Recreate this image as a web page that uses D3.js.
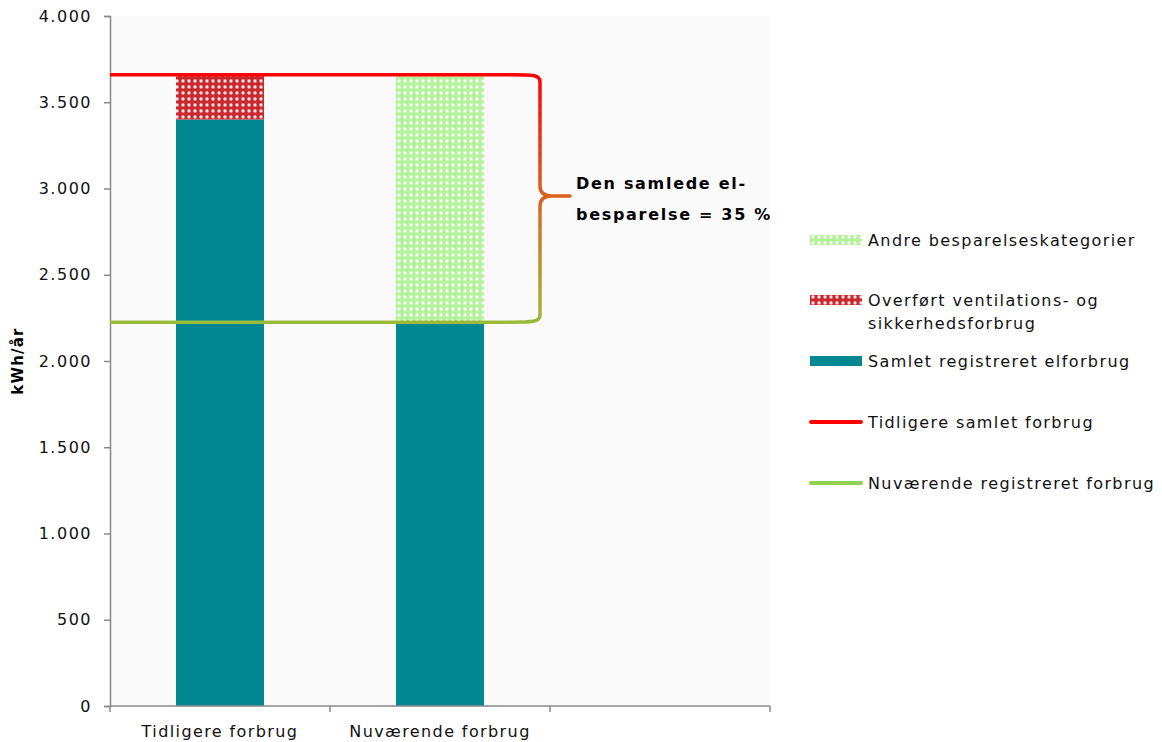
<!DOCTYPE html>
<html>
<head>
<meta charset="utf-8">
<script src="https://cdn.jsdelivr.net/npm/d3@7"></script>
<style>
  body { margin: 0; background: #ffffff; }
  svg { display: block; font-family: "DejaVu Sans", Verdana, sans-serif; }
</style>
</head>
<body>
<svg id="chart" width="1162" height="742"></svg>
<script>
// Categories on the x axis (the third slot is left empty)
const categories = ["Tidligere forbrug", "Nuværende forbrug", ""];
// Stacked series, kWh/år
const registeredUse = [3400, 2225, null];   // Samlet registreret elforbrug
const transferredUse = [260, 0, null];      // Overført ventilations- og sikkerhedsforbrug
const otherSavings = [0, 1435, null];       // Andre besparelseskategorier
// Reference levels
const previousTotal = 3660;                 // Tidligere samlet forbrug
const currentRegistered = 2225;             // Nuværende registreret forbrug
const yTicks = [0, 500, 1000, 1500, 2000, 2500, 3000, 3500, 4000];
const legendLabels = [
  ["Andre besparelseskategorier"],
  ["Overført ventilations- og", "sikkerhedsforbrug"],
  ["Samlet registreret elforbrug"],
  ["Tidligere samlet forbrug"],
  ["Nuværende registreret forbrug"]
];
const noteLines = ["Den samlede el-", "besparelse = 35 %"];

const svg = d3.select("#chart");
const plotLeft = 110, plotRight = 770, plotTop = 16, plotBottom = 706;
const spacing = 1.4;

const x = d3.scaleBand().domain(d3.range(categories.length)).range([plotLeft, plotRight]).paddingInner(0).paddingOuter(0);
const y = d3.scaleLinear().domain([0, 4000]).range([plotBottom, plotTop]);

const teal = "#038891", red = "#ff0000", green = "#92d050";

// Dotted fill patterns
const defs = svg.append("defs");
function dotPattern(id, bg, dot) {
  const p = defs.append("pattern").attr("id", id).attr("patternUnits", "userSpaceOnUse")
    .attr("width", 6).attr("height", 6);
  p.append("rect").attr("width", 6).attr("height", 6).attr("fill", bg);
  p.append("circle").attr("cx", 3).attr("cy", 3).attr("r", 1.4).attr("fill", dot).attr("opacity", 0.85);
  p.append("circle").attr("cx", 3).attr("cy", 3).attr("r", 2.1).attr("fill", dot).attr("opacity", 0.3);
}
dotPattern("redDots", "#c9282d", "#ffffff");
dotPattern("greenDots", "#b3f29b", "#ffffff");

const grad = defs.append("linearGradient").attr("id", "braceGrad")
  .attr("gradientUnits", "userSpaceOnUse")
  .attr("x1", 0).attr("x2", 0).attr("y1", y(previousTotal)).attr("y2", y(currentRegistered));
grad.append("stop").attr("offset", "0%").attr("stop-color", "#ff0000");
grad.append("stop").attr("offset", "50%").attr("stop-color", "#d9631e");
grad.append("stop").attr("offset", "100%").attr("stop-color", "#9bbb3a");

// Plot area background
svg.append("rect").attr("x", plotLeft).attr("y", plotTop).attr("width", plotRight - plotLeft).attr("height", plotBottom - plotTop)
  .attr("fill", "#fafafa");

// Bars
const barW = x.bandwidth() * 0.4;
const bx = i => x(i) + (x.bandwidth() - barW) / 2;
const stacks = [
  { vals: registeredUse, fill: teal },
  { vals: transferredUse, fill: "url(#redDots)" },
  { vals: otherSavings, fill: "url(#greenDots)" }
];
const base = categories.map(() => 0);
stacks.forEach(s => {
  categories.forEach((c, i) => {
    const v = s.vals[i];
    if (v == null || v === 0) return;
    svg.append("rect")
      .attr("x", bx(i)).attr("width", barW)
      .attr("y", y(base[i] + v)).attr("height", y(base[i]) - y(base[i] + v))
      .attr("fill", s.fill);
    base[i] += v;
  });
});

// Axes
const yAxis = d3.axisLeft(y).tickValues(yTicks).tickSize(6).tickPadding(18 - 6)
  .tickFormat(d => d3.format(",")(d).replace(/,/g, "."));
const gy = svg.append("g").attr("transform", `translate(${plotLeft},0)`).call(yAxis);
gy.selectAll("line,path").attr("stroke", "#888").attr("stroke-width", 1.5);
gy.selectAll("text").attr("font-size", 16).attr("fill", "#111").attr("letter-spacing", 1.5)
  .attr("font-family", "DejaVu Sans, Verdana, sans-serif");

const gx = svg.append("g").attr("transform", `translate(0,${plotBottom})`);
gx.append("line").attr("x1", plotLeft).attr("x2", plotRight).attr("y1", 0).attr("y2", 0)
  .attr("stroke", "#888").attr("stroke-width", 1.5);
const bounds = d3.range(categories.length + 1).map(i => plotLeft + i * x.bandwidth());
gx.selectAll("line.tick").data(bounds).join("line").attr("class", "tick")
  .attr("x1", d => d).attr("x2", d => d).attr("y1", 0).attr("y2", 6).attr("stroke", "#888").attr("stroke-width", 1.5);
gx.selectAll("text").data(categories).join("text")
  .attr("x", (d, i) => x(i) + x.bandwidth() / 2).attr("y", 31)
  .attr("text-anchor", "middle").attr("font-size", 16).attr("letter-spacing", spacing)
  .attr("fill", "#111").text(d => d);

// Y axis title
svg.append("text").attr("transform", `translate(23,${(plotTop + plotBottom) / 2}) rotate(-90)`)
  .attr("text-anchor", "middle").attr("font-size", 15).attr("font-weight", "bold").attr("letter-spacing", 1.2)
  .attr("fill", "#000").text("kWh/år");

// Reference lines joined by a curly brace
const yTop = y(previousTotal), yBot = y(currentRegistered);
const braceX = x(1) + x.bandwidth() - 10;
const lineEnd = braceX - 30;
const yMid = yTop + (yBot - yTop) * 0.49;
svg.append("line").attr("x1", plotLeft).attr("x2", lineEnd).attr("y1", yTop).attr("y2", yTop)
  .attr("stroke", red).attr("stroke-width", 3.5);
svg.append("line").attr("x1", plotLeft).attr("x2", lineEnd).attr("y1", yBot).attr("y2", yBot)
  .attr("stroke", "#9bbb3a").attr("stroke-width", 3.5);
const r = 7;
const brace = d3.path();
brace.moveTo(lineEnd, yTop);
brace.bezierCurveTo(lineEnd + 22, yTop, braceX, yTop, braceX, yTop + r);
brace.lineTo(braceX, yMid - 10);
brace.quadraticCurveTo(braceX, yMid, braceX + 12, yMid);
brace.lineTo(braceX + 30, yMid);
brace.moveTo(braceX + 30, yMid);
brace.lineTo(braceX + 12, yMid);
brace.quadraticCurveTo(braceX, yMid, braceX, yMid + 10);
brace.lineTo(braceX, yBot - r);
brace.bezierCurveTo(braceX, yBot, lineEnd + 22, yBot, lineEnd, yBot);
svg.append("path").attr("d", brace.toString()).attr("fill", "none")
  .attr("stroke", "url(#braceGrad)").attr("stroke-width", 3.5)
  .attr("stroke-linejoin", "round").attr("stroke-linecap", "round");

// Annotation
const note = svg.append("text").attr("font-size", 16).attr("font-weight", "bold")
  .attr("letter-spacing", 1.7).attr("fill", "#000");
noteLines.forEach((t, i) => note.append("tspan").attr("x", braceX + 36).attr("y", 189 + i * 31).text(t));

// Legend
const legX = 810, legW = 52, txtX = 868;
const legY = [240, 300, 361, 422, 483];
const swatches = [
  { type: "rect", fill: "url(#greenDots)" },
  { type: "rect", fill: "url(#redDots)" },
  { type: "rect", fill: teal },
  { type: "line", stroke: red },
  { type: "line", stroke: green }
];
swatches.forEach((s, i) => {
  const cy = legY[i];
  if (s.type === "rect") {
    svg.append("rect").attr("x", legX).attr("y", cy - 5).attr("width", legW).attr("height", 10).attr("fill", s.fill);
  } else {
    svg.append("line").attr("x1", legX + 1).attr("x2", legX + legW - 1).attr("y1", cy).attr("y2", cy)
      .attr("stroke", s.stroke).attr("stroke-width", 4).attr("stroke-linecap", "round");
  }
  const t = svg.append("text").attr("font-size", 16).attr("letter-spacing", spacing).attr("fill", "#111");
  legendLabels[i].forEach((line, j) => t.append("tspan").attr("x", txtX).attr("y", cy + 6 + j * 23).text(line));
});
</script>
</body>
</html>
